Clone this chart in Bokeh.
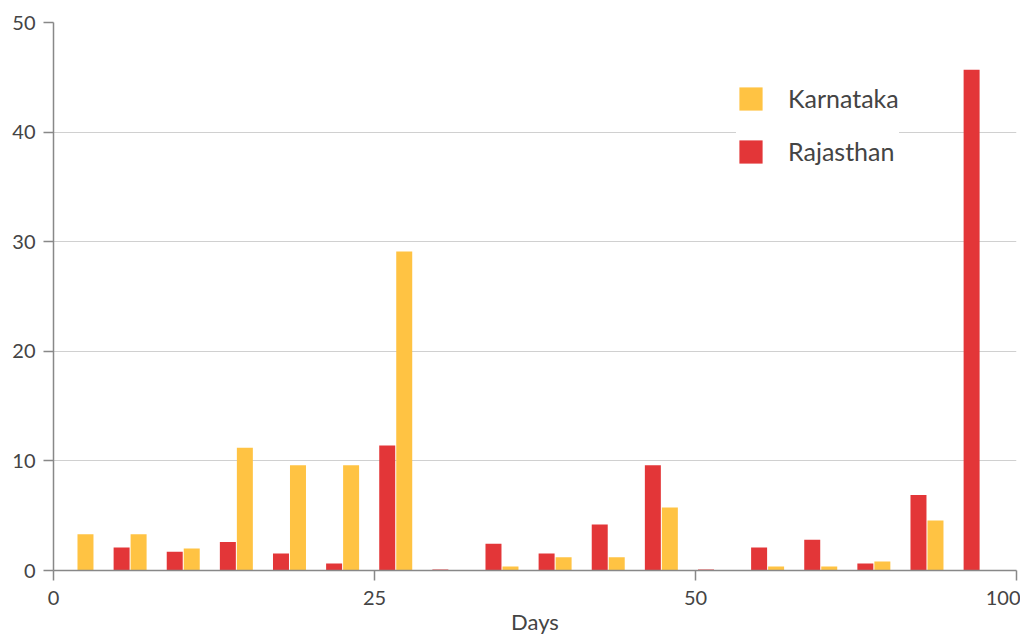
from bokeh.plotting import figure
from bokeh.models import Range1d, FixedTicker, ColumnDataSource, Legend, LegendItem
from bokeh.transform import dodge
from bokeh.embed import file_html
from bokeh.resources import INLINE

groups = list(range(18))
karnataka = [3.3, 3.3, 2.0, 11.2, 9.6, 9.6, 29.1, 0.03, 0.36, 1.2, 1.2, 5.75, 0.0, 0.36, 0.36, 0.82, 4.56, 0.0]
rajasthan = [0.0, 2.1, 1.7, 2.6, 1.55, 0.64, 11.4, 0.1, 2.45, 1.55, 4.2, 9.6, 0.1, 2.1, 2.8, 0.64, 6.9, 45.7]
x_ticks = [0, 25, 50, 100]
y_ticks = [0, 10, 20, 30, 40, 50]

YELLOW = "#FFC343"
RED = "#E33638"
FONT = "Lato"

src = ColumnDataSource(dict(group=groups, k=karnataka, r=rajasthan))

span = 18.127
tick_pos = [i * span / 3 for i in range(len(x_ticks))]

p = figure(width=1020, height=641, output_backend="svg", toolbar_location=None,
           x_range=Range1d(0, span), y_range=Range1d(0, 50),
           min_border_left=53, min_border_right=4, min_border_top=22, min_border_bottom=71)
p.outline_line_color = None
p.background_fill_color = "white"

rr = p.vbar(x=dodge("group", 0.282, range=p.x_range), top="r", width=0.301, source=src,
            fill_color=RED, line_color=None)
kr = p.vbar(x=dodge("group", 0.602, range=p.x_range), top="k", width=0.301, source=src,
            fill_color=YELLOW, line_color=None)

p.xaxis.ticker = FixedTicker(ticks=tick_pos)
p.xaxis.major_label_overrides = {t: str(v) for t, v in zip(tick_pos, x_ticks)}
p.yaxis.ticker = FixedTicker(ticks=y_ticks)
p.xaxis.axis_label = "Days"

for ax in (p.xaxis[0], p.yaxis[0]):
    ax.axis_line_color = "#888888"
    ax.axis_line_width = 1.5
    ax.major_tick_line_color = "#888888"
    ax.major_tick_line_width = 1.5
    ax.major_tick_out = 10
    ax.major_tick_in = 0
    ax.minor_tick_line_color = None
    ax.major_label_text_font = FONT
    ax.major_label_text_font_size = "20px"
    ax.major_label_text_color = "#444444"
    ax.major_label_standoff = 8

p.xaxis.major_label_standoff = 10
p.xaxis.axis_label_text_font = FONT
p.xaxis.axis_label_text_font_size = "22px"
p.xaxis.axis_label_text_font_style = "normal"
p.xaxis.axis_label_text_color = "#444444"
p.xaxis.axis_label_standoff = 0

p.xgrid.grid_line_color = None
p.ygrid.grid_line_color = "#d0d0d0"
p.ygrid.grid_line_width = 1

legend = Legend(items=[LegendItem(label="Karnataka", renderers=[kr]),
                       LegendItem(label="Rajasthan", renderers=[rr])],
                location=(683, 404))
legend.glyph_width = 29
legend.glyph_height = 29
legend.spacing = 23
legend.padding = 16
legend.margin = 0
legend.label_standoff = 23
legend.label_text_font = FONT
legend.label_text_font_size = "25px"
legend.label_text_color = "#444444"
legend.border_line_color = None
legend.background_fill_color = "white"
legend.background_fill_alpha = 1.0
p.add_layout(legend, "center")

open("out.html", "w").write(file_html(p, INLINE))
